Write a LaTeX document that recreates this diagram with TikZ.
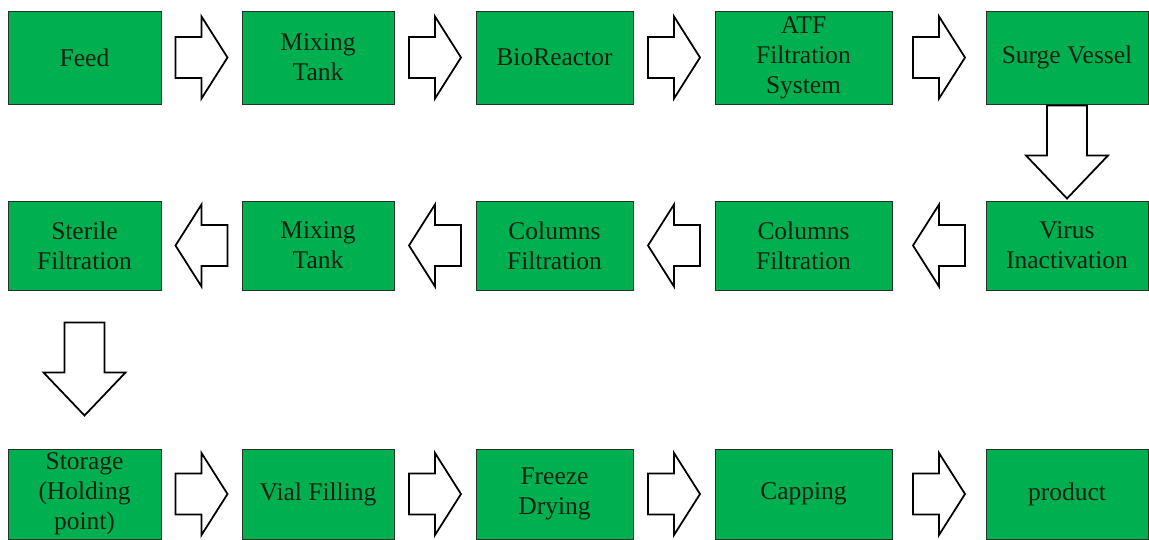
\documentclass[tikz,border=0pt]{standalone}
\usepackage{fontspec}
\setmainfont{Liberation Serif}
\usepackage{tikz}
\usetikzlibrary{positioning, calc}
\definecolor{StepGreen}{RGB}{0,176,80}
\definecolor{StepEdge}{RGB}{40,50,40}
\definecolor{StepInk}{RGB}{18,32,18}

% hollow block arrows between two boxes
\newcommand{\arrright}[2]{%
  \path ($(#1.east)!0.5!(#2.west)$) coordinate (mid);
  \draw[blk, shift={(mid)}] (-26,-20.5) -- (0,-20.5) -- (0,-41) -- (26,0)
    -- (0,41) -- (0,20.5) -- (-26,20.5) -- cycle;}
\newcommand{\arrleft}[2]{%
  \path ($(#1.west)!0.5!(#2.east)$) coordinate (mid);
  \draw[blk, shift={(mid)}] (26,-20.5) -- (0,-20.5) -- (0,-41) -- (-26,0)
    -- (0,41) -- (0,20.5) -- (26,20.5) -- cycle;}
\newcommand{\arrdown}[2]{%
  \path ($(#1.south)!0.5!(#2.north)$) coordinate (mid);
  \draw[blk, shift={(mid)}] (-20,-47) -- (20,-47) -- (20,3) -- (41,3)
    -- (0,46) -- (-41,3) -- (-20,3) -- cycle;}

\begin{document}
\begin{tikzpicture}[x=0.02cm, y=-0.02cm,
    stepbox/.style={rectangle, draw=StepEdge, line width=0.5pt, fill=StepGreen,
                    text=StepInk, inner sep=0pt, align=center,
                    font=\fontsize{14.5}{17}\selectfont},
    blk/.style={draw=black, fill=white, line width=1pt, line join=miter}
  ]
  \useasboundingbox (0,0) rectangle (1149,539);

  % first row
  \node[stepbox, minimum width=3.06cm, minimum height=1.86cm] (feed)    at (84.5,57.5)  {Feed};
  \node[stepbox, minimum width=3.04cm, minimum height=1.86cm] (mixA)    at (318,57.5)   {Mixing\\Tank};
  \node[stepbox, minimum width=3.14cm, minimum height=1.86cm] (bio)     at (554.5,57.5) {BioReactor};
  \node[stepbox, minimum width=3.54cm, minimum height=1.86cm] (atf)     at (803.5,57.5) {ATF\\Filtration\\System};
  \node[stepbox, minimum width=3.24cm, minimum height=1.86cm] (surge)   at (1067,57.5)  {Surge Vessel};

  % second row
  \node[stepbox, minimum width=3.24cm, minimum height=1.78cm] (virus)   at (1067,245.5)  {Virus\\Inactivation};
  \node[stepbox, minimum width=3.54cm, minimum height=1.78cm] (colB)    at (803.5,245.5) {Columns\\Filtration};
  \node[stepbox, minimum width=3.14cm, minimum height=1.78cm] (colA)    at (554.5,245.5) {Columns\\Filtration};
  \node[stepbox, minimum width=3.04cm, minimum height=1.78cm] (mixB)    at (318,245.5)   {Mixing\\Tank};
  \node[stepbox, minimum width=3.06cm, minimum height=1.78cm] (sterile) at (84.5,245.5)  {Sterile\\Filtration};

  % third row
  \node[stepbox, minimum width=3.06cm, minimum height=1.80cm] (storage) at (84.5,494)  {Storage\\(Holding\\point)};
  \node[stepbox, minimum width=3.04cm, minimum height=1.80cm] (vial)    at (318,494)   {Vial Filling};
  \node[stepbox, minimum width=3.14cm, minimum height=1.80cm] (freeze)  at (554.5,494) {Freeze\\Drying};
  \node[stepbox, minimum width=3.54cm, minimum height=1.80cm] (capping) at (803.5,494) {Capping};
  \node[stepbox, minimum width=3.24cm, minimum height=1.80cm] (product) at (1067,494)  {product};

  \arrright{feed}{mixA}
  \arrright{mixA}{bio}
  \arrright{bio}{atf}
  \arrright{atf}{surge}
  \arrdown{surge}{virus}
  \arrleft{virus}{colB}
  \arrleft{colB}{colA}
  \arrleft{colA}{mixB}
  \arrleft{mixB}{sterile}
  \arrdown{sterile}{storage}
  \arrright{storage}{vial}
  \arrright{vial}{freeze}
  \arrright{freeze}{capping}
  \arrright{capping}{product}
\end{tikzpicture}
\end{document}
